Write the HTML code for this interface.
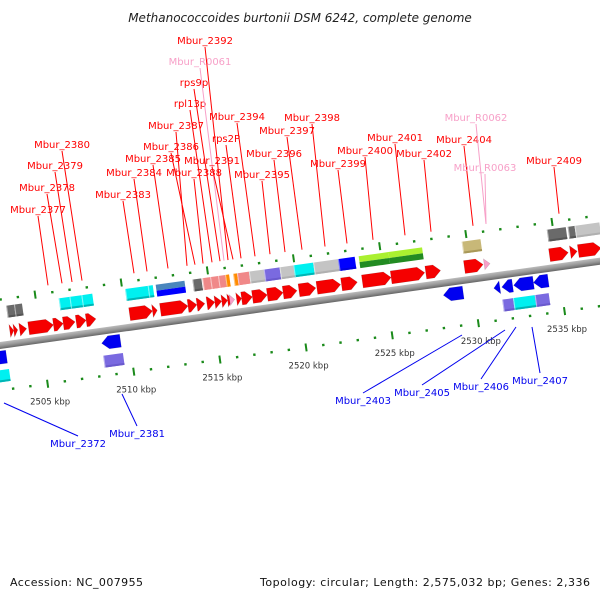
<!DOCTYPE html>
<html><head><meta charset="utf-8"><style>
html,body{margin:0;padding:0;background:#fff;width:600px;height:600px;overflow:hidden}
svg text{font-family:"DejaVu Sans","Liberation Sans",sans-serif}
</style></head><body>
<svg id="map" width="600" height="600" viewBox="0 0 600 600" xmlns="http://www.w3.org/2000/svg">
<defs>
<linearGradient id="bb" x1="0" y1="0" x2="0" y2="1"><stop offset="0" stop-color="#bbb"/><stop offset="0.5" stop-color="#999"/><stop offset="1" stop-color="#666"/></linearGradient>
</defs>
<text x="300" y="22" text-anchor="middle" font-size="12" font-style="italic" fill="#222">Methanococcoides burtonii DSM 6242, complete genome</text>
<g id="rot" transform="translate(0,345) rotate(-8)"></g>
<g id="overlay"></g>
<text x="10" y="586" font-size="11" fill="#111" textLength="133">Accession: NC_007955</text>
<text x="590" y="586" font-size="11" fill="#111" text-anchor="end" textLength="330">Topology: circular; Length: 2,575,032 bp; Genes: 2,336</text>
</svg>
<script>
// data (kbp)
const fwdGenes=[[2503.27,2503.50],[2503.50,2503.73],[2503.84,2504.25],[2504.36,2505.80],[2505.80,2506.37],[2506.37,2507.06],[2507.12,2507.70],[2507.70,2508.27],[2510.22,2511.55],[2511.55,2511.83],[2512.01,2513.61],[2513.61,2514.13],[2514.13,2514.59],[2514.71,2515.17],[2515.17,2515.57],[2515.57,2515.91],[2515.91,2516.20],[2516.43,2516.72],[2516.72,2517.35],[2517.35,2518.21],[2518.21,2519.13],[2519.13,2519.94],[2520.05,2521.03],[2521.09,2522.47],[2522.52,2523.44],[2523.73,2525.40],[2525.40,2527.35],[2527.41,2528.27],[2529.65,2530.74],[2534.59,2535.68],[2535.80,2536.20],[2536.26,2537.58]];
const fwdRNA=[[2516.03,2516.32],[2530.80,2531.14]];
const fwdBoxes=[[2503.26,2503.72,'#666'],[2503.72,2504.18,'#666'],[2506.31,2506.94,'cyan'],[2506.94,2507.63,'cyan'],[2507.63,2508.26,'cyan'],[2510.16,2511.48,'cyan'],[2511.48,2511.77,'cyan'],[2511.94,2513.61,'steel'],[2514.07,2514.59,'#666'],[2514.64,2515.10,'salmon'],[2515.10,2515.56,'salmon'],[2515.56,2515.97,'salmon'],[2515.97,2516.20,'orange'],[2516.43,2516.66,'orange'],[2516.66,2517.35,'salmon'],[2517.35,2518.21,'silver'],[2518.21,2519.13,'slate'],[2519.13,2519.93,'silver'],[2519.93,2521.08,'cyan'],[2521.08,2522.52,'silver'],[2522.52,2523.49,'blue'],[2523.72,2525.45,'green'],[2525.45,2527.40,'green'],[2529.70,2530.79,'khaki'],[2534.64,2535.74,'#666'],[2535.85,2536.25,'#666'],[2536.25,2537.69,'silver']];
const revGenes=[[2501.97,2502.88],[2508.40,2509.49],[2528.23,2529.38],[2531.16,2531.51],[2531.62,2532.25],[2532.31,2533.46],[2533.46,2534.32]];
const revBoxes=[[2501.83,2502.92,'cyan'],[2508.38,2509.53,'slate'],[2531.54,2532.17,'slate'],[2532.17,2533.43,'cyan'],[2533.43,2534.24,'slate']];
const kbpTicks=[2505,2510,2515,2520,2525,2530,2535];
const kbpTickLabels=['2505 kbp','2510 kbp','2515 kbp','2520 kbp','2525 kbp','2530 kbp','2535 kbp'];
const topLabels=[['Mbur_2377',38,209,48,'red'],['Mbur_2378',47,187,62,'red'],['Mbur_2379',55,165,72,'red'],['Mbur_2380',62,144,82,'red'],['Mbur_2383',123,194,134,'red'],['Mbur_2384',134,172,147,'red'],['Mbur_2385',153,158,168,'red'],['Mbur_2386',171,146,195,'red'],['Mbur_2387',176,125,187,'red'],['Mbur_2388',194,172,203,'red'],['rpl13p',190,103,212,'red'],['rps9p',194,82,220,'red'],['Mbur_R0061',200,61,224,'#f7a0c8'],['Mbur_2392',205,40,228,'red'],['Mbur_2391',212,160,233,'red'],['rps2P',226,138,241,'red'],['Mbur_2394',237,116,255,'red'],['Mbur_2395',262,174,270,'red'],['Mbur_2396',274,153,285,'red'],['Mbur_2397',287,130,302,'red'],['Mbur_2398',312,117,325,'red'],['Mbur_2399',338,163,347,'red'],['Mbur_2400',365,150,373,'red'],['Mbur_2401',395,137,405,'red'],['Mbur_2402',424,153,431,'red'],['Mbur_2404',464,139,473,'red'],['Mbur_R0062',476,117,486,'#f7a0c8'],['Mbur_R0063',485,167,486,'#f7a0c8'],['Mbur_2409',554,160,559,'red']];
const botLabels=[['Mbur_2372',78,443,4,403],['Mbur_2381',137,433,122,394],['Mbur_2403',363,400,462,335],['Mbur_2405',422,392,505,330],['Mbur_2406',481,386,516,327],['Mbur_2407',540,380,532,327]];

const NS='http://www.w3.org/2000/svg';
const K0=2502.6, PX=17.4, S=Math.sin(8*Math.PI/180), C=Math.cos(8*Math.PI/180);
const U=k=>(k-K0)*PX;
const scr=(u,v)=>[u*C+v*S,345-u*S+v*C];
const rot=document.getElementById('rot'), ov=document.getElementById('overlay');
function mk(tag,at,parent){const e=document.createElementNS(NS,tag);for(const k in at)e.setAttribute(k,at[k]);parent.appendChild(e);return e;}
const COL={cyan:['#00f0f0','#00b5b5'],steel:['#4a86bd','#0000ff'],green:['#aaf030','#228b22'],salmon:['#f08888','#f08888'],silver:['#c4c4c4','#b0b0b0'],slate:['#7a6ae0','#6a5acd'],blue:['#0000ff','#0000e0'],khaki:['#c8b878','#a89858'],orange:['#ff8c00','#ff8c00'],'#666':['#6a6a6a','#555']};

// backbone
let bbEl=mk('rect',{x:-30,y:-3,width:700,height:7,fill:'url(#bb)'},rot);



// ticks
for(let k=2501;k<=2538;k++){
  const u=U(k), major=k%5===0;
  [-45,45].forEach(v=>{
    let t=mk('rect',major?{x:u-1,y:v-4,width:2,height:8,fill:'#1a8a1a'}:{x:u-1.2,y:v-1.2,width:2.4,height:2.4,fill:'#1a8a1a'},rot);
    
    
  });
}
kbpTicks.forEach((k,i)=>{
  const p=scr(U(k),63);
  let t=mk('text',{x:p[0],y:p[1]+3,'font-size':8.5,'text-anchor':'middle',fill:'#333'},ov);
  t.textContent=kbpTickLabels[i];
  
  
});

function box(g,top,h,name){
  const u0=U(g[0]),u1=U(g[1]),c=COL[g[2]];
  const two=(g[2]==='steel'||g[2]==='green');
  let r=mk('rect',{x:u0,y:top,width:u1-u0,height:two?h/2:h,fill:c[0]},rot);
  
  
  let r2=mk('rect',{x:u0,y:two?top+h/2:top+h-2,width:u1-u0,height:two?h/2:2,fill:c[1]},rot);
  
  
  if(!two){let l=mk('line',{x1:u0+0.5,y1:top,x2:u0+0.5,y2:top+h,stroke:'#fff','stroke-opacity':0.5,'stroke-width':1},rot);
    
    }
}
fwdBoxes.forEach(g=>box(g,-38,12,'forward-feature-box'));
revBoxes.forEach(g=>box(g,25,12,'reverse-feature-box'));

function arrow(g,top,h,dir,fill,name){
  const u0=U(g[0]),u1=U(g[1]),hl=Math.min(7,u1-u0),m=top+h/2,b=top+h;
  let pts= dir>0 ? [[u0,top],[u1-hl,top],[u1,m],[u1-hl,b],[u0,b]] : [[u1,top],[u0+hl,top],[u0,m],[u0+hl,b],[u1,b]];
  let p=mk('polygon',{points:pts.map(q=>q.join(',')).join(' '),fill:fill,stroke:'rgba(0,0,0,0.15)','stroke-width':0.6},rot);
  
  
}
fwdGenes.forEach(g=>arrow(g,-19,13,1,'#f50000','forward-gene-arrow'));
fwdRNA.forEach(g=>arrow(g,-18,11,1,'#f7a0c8','forward-rna-arrow'));
revGenes.forEach(g=>arrow(g,6,13,-1,'#0000f0','reverse-gene-arrow'));

// labels
topLabels.forEach(l=>{
  const ey=292-0.14*l[3];
  let ln=mk('line',{x1:l[1],y1:l[2]+7,x2:l[3],y2:ey,stroke:l[4],'stroke-width':1},ov);
  
  
  let t=mk('text',{x:l[1],y:l[2]+4,'font-size':10,'text-anchor':'middle',fill:l[4]},ov);
  t.textContent=l[0];
  
  
});
botLabels.forEach(l=>{
  let ln=mk('line',{x1:l[3],y1:l[4],x2:l[1],y2:l[2]-7,stroke:'#0000ee','stroke-width':1},ov);
  
  
  let t=mk('text',{x:l[1],y:l[2]+4,'font-size':10,'text-anchor':'middle',fill:'#0000ee'},ov);
  t.textContent=l[0];
  
  
});
</script>
</body></html>
